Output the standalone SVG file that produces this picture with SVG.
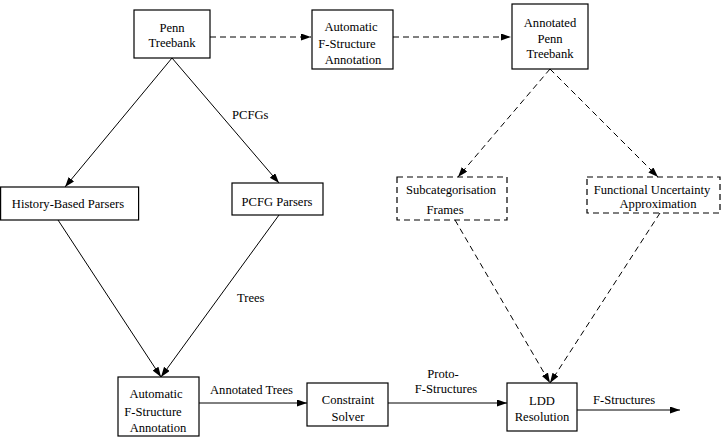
<svg xmlns="http://www.w3.org/2000/svg" width="724" height="440" viewBox="0 0 724 440">
<style>
.box{fill:#fff;stroke:#000;stroke-width:1.2}
.dbox{fill:#fff;stroke:#000;stroke-width:1.2;stroke-dasharray:6 4}
.ln{fill:none;stroke:#000;stroke-width:1}
.dl{fill:none;stroke:#000;stroke-width:1;stroke-dasharray:6 4}
text{font-family:"Liberation Serif","Times New Roman",serif;font-size:12.6px;fill:#000}
.c{text-anchor:middle}
</style>
<defs>
<marker id="ah" markerUnits="userSpaceOnUse" markerWidth="11" markerHeight="8" refX="10" refY="3.5" orient="auto">
<path d="M0,0 L10,3.5 L0,7 z" fill="#000"/>
</marker>
</defs>
<rect width="724" height="440" fill="#fff"/>
<g id="connectors">
<line class="dl" x1="210" y1="37" x2="311" y2="37" marker-end="url(#ah)"/>
<line class="dl" x1="393" y1="37" x2="511" y2="37" marker-end="url(#ah)"/>
<line class="ln" x1="172" y1="58" x2="65" y2="187" marker-end="url(#ah)"/>
<line class="ln" x1="172" y1="58" x2="279" y2="183" marker-end="url(#ah)"/>
<line class="ln" x1="58" y1="220" x2="161" y2="377" marker-end="url(#ah)"/>
<line class="ln" x1="279" y1="215" x2="161" y2="377" marker-end="url(#ah)"/>
<line class="dl" x1="550" y1="69" x2="458" y2="177" marker-end="url(#ah)"/>
<line class="dl" x1="550" y1="69" x2="658" y2="177" marker-end="url(#ah)"/>
<line class="dl" x1="455" y1="220" x2="550" y2="383" marker-end="url(#ah)"/>
<line class="dl" x1="660" y1="213" x2="550" y2="383" marker-end="url(#ah)"/>
<line class="ln" x1="199" y1="403" x2="307" y2="403" marker-end="url(#ah)"/>
<line class="ln" x1="388" y1="403" x2="507" y2="403" marker-end="url(#ah)"/>
<line class="ln" x1="577" y1="410" x2="680" y2="410" marker-end="url(#ah)"/>
<text x="232" y="119">PCFGs</text>
<text x="237" y="302">Trees</text>
<text x="210" y="394">Annotated Trees</text>
<text x="443" y="378" class="c">Proto-</text>
<text x="446" y="393" class="c">F-Structures</text>
<text x="593" y="404">F-Structures</text>
</g>
<g id="penn">
<rect class="box" x="134" y="10" width="76" height="48"/>
<text x="172" y="32" class="c">Penn</text>
<text x="172" y="47" class="c">Treebank</text>
</g>
<g id="auto-top">
<rect class="box" x="312" y="10" width="81" height="59"/>
<text x="351" y="31" class="c">Automatic</text>
<text x="347" y="48" class="c">F-Structure</text>
<text x="353" y="64" class="c">Annotation</text>
</g>
<g id="annotated">
<rect class="box" x="512" y="4" width="76" height="65"/>
<text x="550" y="27" class="c">Annotated</text>
<text x="550" y="43" class="c">Penn</text>
<text x="550" y="58" class="c">Treebank</text>
</g>
<g id="history">
<rect class="box" x="0.6" y="187" width="138" height="33"/>
<text x="68" y="208" class="c">History-Based Parsers</text>
</g>
<g id="pcfg">
<rect class="box" x="232" y="183" width="91" height="32"/>
<text x="277" y="206" class="c">PCFG Parsers</text>
</g>
<g id="subcat">
<rect class="dbox" x="397" y="177" width="110" height="43"/>
<text x="451" y="194" class="c">Subcategorisation</text>
<text x="445" y="214" class="c">Frames</text>
</g>
<g id="functional">
<rect class="dbox" x="587" y="177" width="133" height="36"/>
<text x="652" y="194" class="c">Functional Uncertainty</text>
<text x="658" y="208" class="c">Approximation</text>
</g>
<g id="auto-bottom">
<rect class="box" x="118" y="377" width="81" height="59"/>
<text x="156" y="398" class="c">Automatic</text>
<text x="153" y="416" class="c">F-Structure</text>
<text x="158" y="432" class="c">Annotation</text>
</g>
<g id="constraint">
<rect class="box" x="307" y="383" width="81" height="43"/>
<text x="348" y="404" class="c">Constraint</text>
<text x="348" y="421" class="c">Solver</text>
</g>
<g id="ldd">
<rect class="box" x="507" y="383" width="70" height="48"/>
<text x="542" y="405" class="c">LDD</text>
<text x="542" y="421" class="c">Resolution</text>
</g>
</svg>
